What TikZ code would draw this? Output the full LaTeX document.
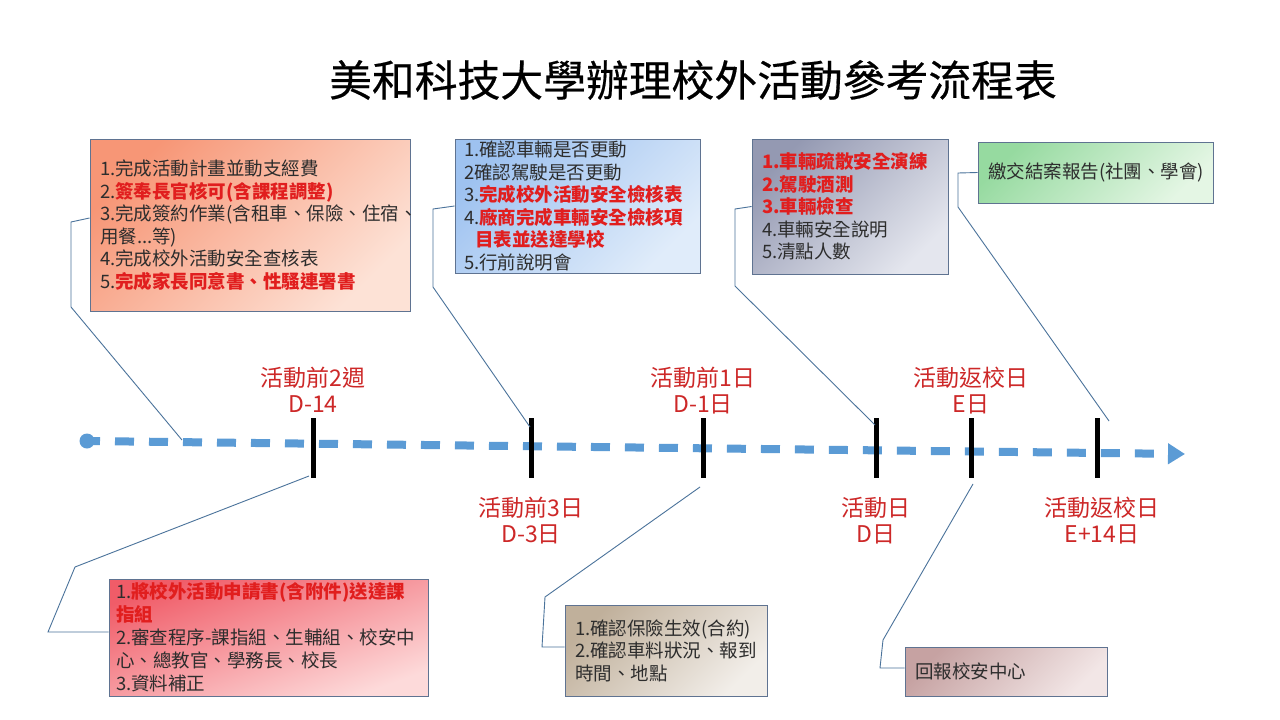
\documentclass[tikz,border=0pt]{standalone}
\usepackage{fontspec}
\setmainfont{Noto Sans CJK TC}
\newfontfamily\titlefont[FakeBold=0.4]{Noto Sans CJK TC}
\usetikzlibrary{arrows.meta}
\definecolor{tlblue}{RGB}{91,155,213}
\definecolor{txt}{RGB}{45,45,45}
\definecolor{redb}{RGB}{225,30,30}
\definecolor{lblred}{RGB}{205,40,40}
\definecolor{boxline}{RGB}{95,115,145}
\definecolor{connc}{RGB}{75,115,155}
\definecolor{aTL}{RGB}{247,150,118}
\definecolor{aBR}{RGB}{253,226,214}
\definecolor{bTL}{RGB}{158,194,240}
\definecolor{bBR}{RGB}{224,236,250}
\definecolor{cTL}{RGB}{148,153,178}
\definecolor{cBR}{RGB}{228,230,238}
\definecolor{dTL}{RGB}{150,218,160}
\definecolor{dBR}{RGB}{228,246,228}
\definecolor{eTL}{RGB}{240,92,104}
\definecolor{eBR}{RGB}{253,218,218}
\definecolor{fTL}{RGB}{192,176,155}
\definecolor{fBR}{RGB}{242,238,233}
\definecolor{gTL}{RGB}{198,162,162}
\definecolor{gBR}{RGB}{242,230,230}
\newcommand{\redbold}[1]{{\color{redb}\bfseries #1}}
\tikzset{
  box/.style={draw=boxline, line width=0.9pt, inner sep=0pt, align=left,
    font=\fontsize{18.5}{22.5}\selectfont, text=txt},
  conn/.style={draw=connc, line width=0.9pt},
  tickmark/.style={fill=black, inner sep=0pt, minimum width=5pt, minimum height=60pt},
  lbl/.style={text=lblred, align=center, font=\fontsize{23}{26}\selectfont},
  tl/.style={draw=tlblue, line width=8pt, dash pattern=on 19pt off 15pt, dash phase=6pt,
    -{Triangle[length=17pt,width=20pt]}}
}
\begin{document}
\begin{tikzpicture}[x=1pt,y=-1pt]
\useasboundingbox[fill=white] (0,0) rectangle (1280,720);

% title
\node[font=\titlefont\fontsize{42.8}{48}\selectfont, text=black] (title) at (693,80) {美和科技大學辦理校外活動參考流程表};

% timeline
\node[circle, fill=tlblue, minimum size=15pt, inner sep=0pt] (dot) at (87,441) {};
\coordinate (tlend) at (1185,454);
\draw[tl] (dot.center) -- (tlend);

% ticks
\node[tickmark] (t1) at (313,448) {};
\node[tickmark] (t2) at (531,448) {};
\node[tickmark] (t3) at (703,448) {};
\node[tickmark] (t4) at (876,448) {};
\node[tickmark] (t5) at (971,448) {};
\node[tickmark] (t6) at (1097,448) {};

% labels
\node[lbl] (l1) at (313,390) {活動前2週\\D-14};
\node[lbl] (l2) at (531,521) {活動前3日\\D-3日};
\node[lbl] (l3) at (703,391) {活動前1日\\D-1日};
\node[lbl] (l4) at (876,521) {活動日\\D日};
\node[lbl] (l5) at (971,391) {活動返校日\\E日};
\node[lbl] (l6) at (1102,521) {活動返校日\\E+14日};

% boxes
\node[box, top color=aTL, bottom color=aBR, shading angle=45,
  minimum width=320pt, minimum height=172pt, text width=300pt] (A) at (250,225) {%
1.完成活動計畫並動支經費\\
2.\redbold{簽奉長官核可(含課程調整)}\\
\mbox{3.完成簽約作業(含租車、保險、住宿、}\\
用餐...等)\\
4.完成校外活動安全查核表\\
5.\redbold{完成家長同意書、性騷連署書}};

\node[box, top color=bTL, bottom color=bBR, shading angle=45,
  minimum width=245pt, minimum height=134pt, text width=227pt] (B) at (577.5,206) {%
1.確認車輛是否更動\\
2確認駕駛是否更動\\
3.\redbold{完成校外活動安全檢核表}\\
4.\redbold{廠商完成車輛安全檢核項}\\
\hspace*{0.6em}\redbold{目表並送達學校}\\
5.行前說明會};

\node[box, top color=cTL, bottom color=cBR, shading angle=45,
  minimum width=196pt, minimum height=135pt, text width=176pt] (C) at (850,206.5) {%
\redbold{1.車輛疏散安全演練}\\
\redbold{2.駕駛酒測}\\
\redbold{3.車輛檢查}\\
4.車輛安全說明\\
5.清點人數};

\node[box, top color=dTL, bottom color=dBR, shading angle=45,
  minimum width=235pt, minimum height=61pt, text width=215pt] (D) at (1095.5,172.5) {%
繳交結案報告(社團、學會)};

\node[box, top color=eTL, bottom color=eBR, shading angle=20,
  minimum width=319pt, minimum height=117pt, text width=305pt,
  font=\fontsize{18.5}{23}\selectfont] (E) at (268.5,637.5) {%
1.\redbold{將校外活動申請書(含附件)送達課}\\
\redbold{指組}\\
\mbox{2.審查程序-課指組、生輔組、校安中}\\
心、總教官、學務長、校長\\
3.資料補正};

\node[box, top color=fTL, bottom color=fBR, shading angle=45,
  minimum width=202pt, minimum height=91pt, text width=182pt] (F) at (666,650.5) {%
1.確認保險生效(合約)\\
2.確認車料狀況、報到\\
時間、地點};

\node[box, top color=gTL, bottom color=gBR, shading angle=45,
  minimum width=202pt, minimum height=49pt, text width=182pt] (G) at (1006,671.5) {%
回報校安中心};

% connector ends
\coordinate (c1) at (182,440);
\coordinate (c2) at (530,427);
\coordinate (c3) at (875,425);
\coordinate (c4) at (1109,421);
\coordinate (c5) at (309,476);
\coordinate (c6) at (700,487);
\coordinate (c7) at (973,484);

% connectors
\draw[conn] ([yshift=7pt]A.west) -- (71,222) -- (71,307) -- (c1);
\draw[conn] (B.west) -- (433,209) -- (433,287) -- (c2);
\draw[conn] (C.west) -- (735,209) -- (735,286) -- (c3);
\draw[conn] (D.west) -- (958,173) -- (958,207) -- (c4);
\draw[conn] ([yshift=5.5pt]E.west) -- (48,632) -- (75,567) -- (c5);
\draw[conn] ([yshift=3.5pt]F.west) -- (542,647) -- (545,597) -- (c6);
\draw[conn] ([yshift=3.5pt]G.west) -- (880,668) -- (883,640) -- (c7);
\end{tikzpicture}
\end{document}
